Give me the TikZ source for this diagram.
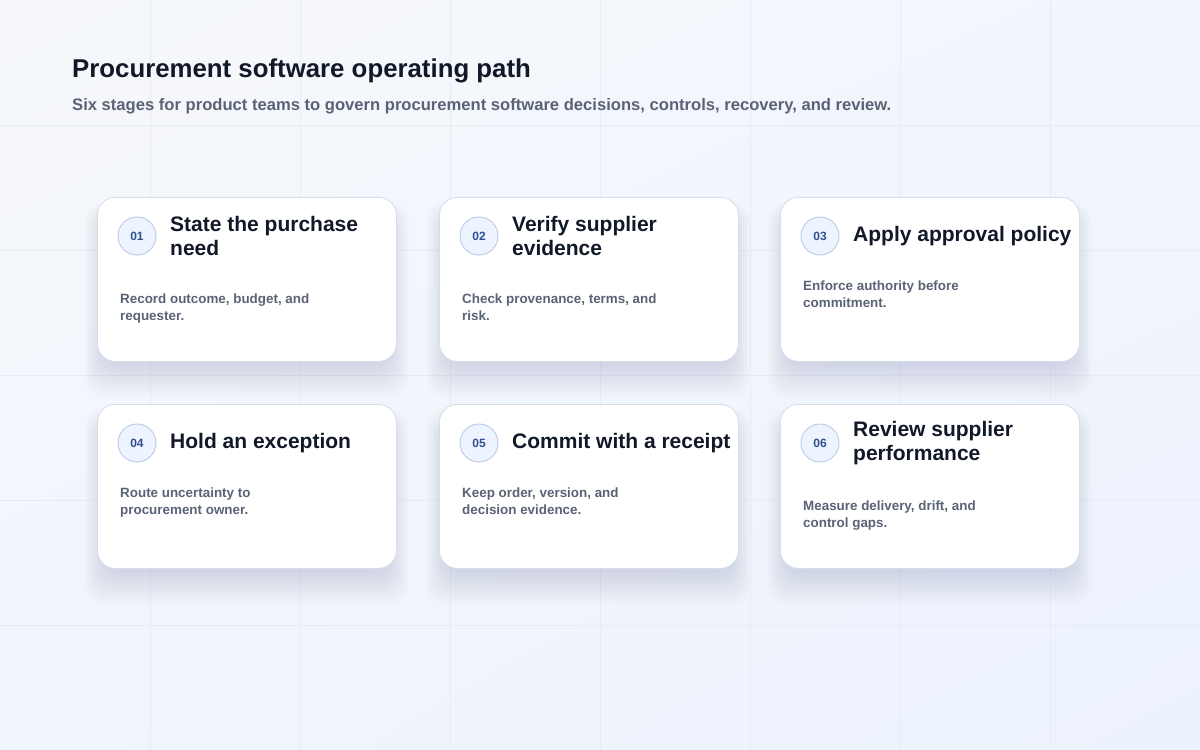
\documentclass[tikz,border=0pt]{standalone}
\usepackage{fontspec}
\setmainfont{Liberation Sans}
\usetikzlibrary{positioning,calc,shadings}

\definecolor{bgtop}{HTML}{F6F8FB}
\definecolor{bgbot}{HTML}{ECF2FD}
\definecolor{gridcol}{HTML}{E8ECF2}
\definecolor{cardline}{HTML}{D6DDEA}
\definecolor{badgefill}{HTML}{EEF4FF}
\definecolor{badgeline}{HTML}{BFCEE8}
\definecolor{badgeink}{HTML}{2F4F91}
\definecolor{ink}{HTML}{111827}
\definecolor{muted}{HTML}{5A6376}
\definecolor{shadowcol}{HTML}{5E6E9C}

\begin{document}
\begin{tikzpicture}[
    x=1pt, y=-1pt,
    card/.style={draw=cardline, line width=0.8pt, fill=white, rounded corners=18pt,
      minimum width=299pt, minimum height=164pt, anchor=north west, inner sep=0pt},
    badge/.style={circle, draw=badgeline, line width=1pt, fill=badgefill, minimum size=38pt,
      inner sep=0pt, text=badgeink, font=\bfseries\fontsize{12}{14}\selectfont},
    stagetitle/.style={anchor=west, align=left, inner sep=0pt, text=ink,
      font=\bfseries\fontsize{21}{24}\selectfont},
    stagebody/.style={anchor=base west, align=left, inner sep=0pt, text=muted,
      font=\bfseries\fontsize{13.4}{17}\selectfont}
  ]
  \useasboundingbox (0,0) rectangle (1200,750);

  % background and grid
  \shade[upper left=bgtop, upper right=bgtop!60!bgbot, lower left=bgtop!50!bgbot, lower right=bgbot]
    (0,0) rectangle (1200,750);
  \foreach \gx in {150,300,...,1050}
    \draw[gridcol, line width=0.6pt] (\gx,0) -- (\gx,750);
  \foreach \gy in {125,250,...,625}
    \draw[gridcol, line width=0.6pt] (0,\gy) -- (1200,\gy);

  % heading
  \node[anchor=base west, inner sep=0pt, text=ink, font=\bfseries\fontsize{25.8}{30}\selectfont]
    (heading) at (72,77) {Procurement software operating path};
  \node[anchor=base west, inner sep=0pt, text=muted, font=\bfseries\fontsize{16.6}{20}\selectfont]
    (subheading) at (72,110) {Six stages for product teams to govern procurement software decisions, controls, recovery, and review.};

  % stages (body anchor is the last line's baseline)
  \foreach \n/\x/\y/\t/\b/\d in {
      01/97/197/{State the purchase\\need}/{Record outcome, budget, and\\requester.}/123,
      02/439/197/{Verify supplier\\evidence}/{Check provenance, terms, and\\risk.}/123,
      03/780/197/{Apply approval policy}/{Enforce authority before\\commitment.}/110,
      04/97/404/{Hold an exception}/{Route uncertainty to\\procurement owner.}/110,
      05/439/404/{Commit with a receipt}/{Keep order, version, and\\decision evidence.}/110,
      06/780/404/{Review supplier\\performance}/{Measure delivery, drift, and\\control gaps.}/123}
  {
    \foreach \s in {1,...,16}
      \fill[shadowcol, opacity=0.012, rounded corners=20pt]
        (\x+8-\s*1.3,\y+24-\s*1.2) rectangle (\x+291+\s*1.3,\y+166+\s*2.2);
    \node[card] (card\n) at (\x,\y) {};
    \node[badge] (badge\n) at (\x+40,\y+39) {\n};
    \node[stagetitle] (title\n) at (\x+73,\y+39) {\t};
    \node[stagebody] (body\n) at (\x+23,\y+\d) {\b};
  }
\end{tikzpicture}
\end{document}
